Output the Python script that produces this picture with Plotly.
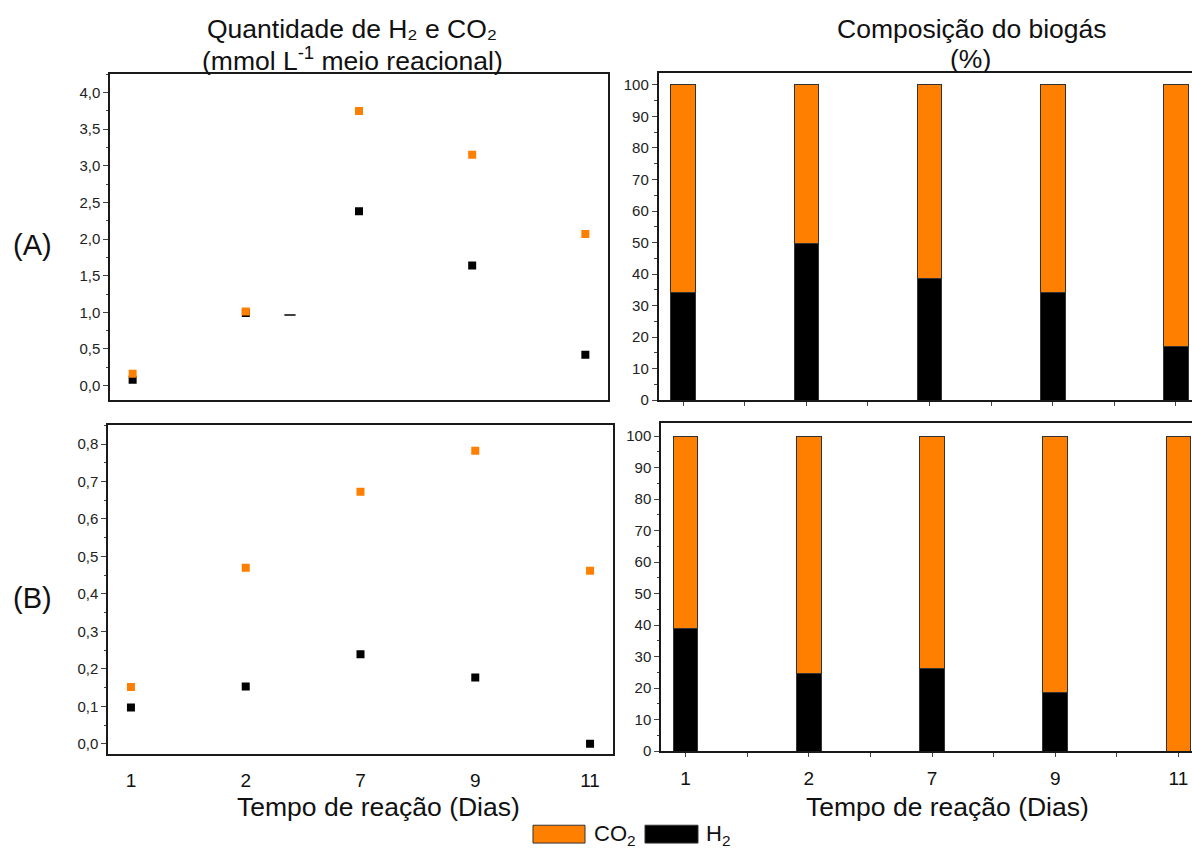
import plotly.graph_objects as go

# ---------------- data ----------------
days = ["1", "2", "7", "9", "11"]
xpos = [0, 1, 2, 3, 4]

# (A) quantity, mmol/L
a_co2 = [0.16, 1.01, 3.75, 3.15, 2.07]
a_h2 = [0.08, 0.99, 2.38, 1.64, 0.42]
a_extra_x = [1.39]
a_extra_y = [0.963]

# (B) quantity, mmol/L
b_co2 = [0.152, 0.47, 0.673, 0.782, 0.462]
b_h2 = [0.097, 0.153, 0.239, 0.177, 0.0]

# biogas composition (%)
a_pct_h2 = [34.1, 49.6, 38.7, 34.1, 17.0]
b_pct_h2 = [39.1, 24.7, 26.3, 18.6, 0.0]
a_pct_co2 = [100 - v for v in a_pct_h2]
b_pct_co2 = [100 - v for v in b_pct_h2]

ORANGE = "#FF8000"
BLACK = "#000000"
FONT = "Liberation Sans, Arial, sans-serif"
W, H = 1192, 858

fig = go.Figure()

def sc(x, y, color, xa, ya):
    fig.add_trace(go.Scatter(x=x, y=y, mode="markers", xaxis=xa, yaxis=ya,
                             marker=dict(symbol="square", size=8, color=color,
                                         line=dict(width=0)),
                             showlegend=False, hoverinfo="skip"))

# (A) scatter
sc(xpos, a_h2, BLACK, "x", "y")
sc(xpos, a_co2, ORANGE, "x", "y")
fig.add_trace(go.Scatter(x=a_extra_x, y=a_extra_y, mode="markers", xaxis="x", yaxis="y",
                         marker=dict(symbol="line-ew", size=8,
                                     line=dict(width=1.5, color=BLACK)),
                         showlegend=False, hoverinfo="skip"))
# (B) scatter
sc(xpos, b_h2, BLACK, "x3", "y3")
sc(xpos, b_co2, ORANGE, "x3", "y3")

def bars(h2, co2, xa, ya):
    fig.add_trace(go.Bar(x=xpos, y=h2, width=0.2, xaxis=xa, yaxis=ya,
                         marker=dict(color=BLACK, line=dict(width=1, color="#333333")),
                         showlegend=False, hoverinfo="skip"))
    fig.add_trace(go.Bar(x=xpos, y=co2, width=0.2, xaxis=xa, yaxis=ya,
                         marker=dict(color=ORANGE, line=dict(width=1, color="#333333")),
                         showlegend=False, hoverinfo="skip"))

bars(a_pct_h2, a_pct_co2, "x2", "y2")
bars(b_pct_h2, b_pct_co2, "x4", "y4")

def px_x(a, b):
    return [a / W, min(b / W, 1.0)]

def px_y(top, bottom):
    return [1 - bottom / H, 1 - top / H]

axline = dict(showline=True, linecolor="#1a1a1a", linewidth=1.5, mirror=True,
              showgrid=False, zeroline=False)
axline_open = dict(showline=True, linecolor="#1a1a1a", linewidth=1.5, mirror=False,
                   showgrid=False, zeroline=False)
tickfont_y = dict(family=FONT, size=15, color="#222222")
tickfont_x = dict(family=FONT, size=19, color="#111111")

fig.update_layout(
    width=W, height=H,
    margin=dict(l=0, r=0, t=0, b=0),
    paper_bgcolor="white", plot_bgcolor="white",
    separators=",.",
    barmode="stack",
    font=dict(family=FONT, color="#111111"),
    xaxis=dict(domain=px_x(110, 608), range=[-0.2, 4.2], anchor="y",
               showticklabels=False, ticks="", **axline),
    yaxis=dict(domain=px_y(75, 404), range=[-0.2, 4.25], anchor="x",
               tickvals=[0, 0.5, 1, 1.5, 2, 2.5, 3, 3.5, 4], tickformat=".1f",
               ticks="outside", ticklen=5, tickwidth=1, tickfont=tickfont_y,
               minor=dict(ticks="outside", ticklen=2.5, dtick=0.25, tick0=0),
               **axline),
    xaxis2=dict(domain=px_x(658.5, 1192), range=[-0.2, 4.13], anchor="y2",
                tickvals=xpos, showticklabels=False, ticks="outside", ticklen=4,
                minor=dict(ticks="outside", ticklen=4, tickvals=[0.5, 1.5, 2.5, 3.5]),
                **axline),
    yaxis2=dict(domain=px_y(73.3, 404), range=[0, 103.9], anchor="x2",
                dtick=10, tick0=0, ticks="outside", ticklen=5, tickfont=tickfont_y,
                minor=dict(ticks="outside", ticklen=2.5, dtick=5),
                **axline_open),
    xaxis3=dict(domain=px_x(108, 613), range=[-0.2, 4.2], anchor="y3",
                tickvals=xpos, ticktext=days, ticks="", tickfont=tickfont_x,
                ticklabelstandoff=9, **axline),
    yaxis3=dict(domain=px_y(429.3, 760.7), range=[-0.026, 0.85], anchor="x3",
                tickvals=[0, 0.1, 0.2, 0.3, 0.4, 0.5, 0.6, 0.7, 0.8], tickformat=".1f",
                ticks="outside", ticklen=5, tickfont=tickfont_y,
                minor=dict(ticks="outside", ticklen=2.5, dtick=0.05, tick0=0),
                **axline),
    xaxis4=dict(domain=px_x(661, 1192), range=[-0.2, 4.11], anchor="y4",
                tickvals=xpos, ticktext=days, ticks="outside", ticklen=4,
                tickfont=tickfont_x, ticklabelstandoff=5,
                minor=dict(ticks="outside", ticklen=4, tickvals=[0.5, 1.5, 2.5, 3.5]),
                **axline),
    yaxis4=dict(domain=px_y(427.3, 758.3), range=[0, 104.1], anchor="x4",
                dtick=10, tick0=0, ticks="outside", ticklen=5, tickfont=tickfont_y,
                minor=dict(ticks="outside", ticklen=2.5, dtick=5),
                **axline_open),
)

def ann(text, x, y, size, xanchor="center"):
    fig.add_annotation(text=text, x=x / W, y=1 - y / H, xref="paper", yref="paper",
                       xanchor=xanchor, yanchor="middle", showarrow=False,
                       font=dict(family=FONT, size=size, color="#111111"))

ann("Quantidade de H₂ e CO₂", 352, 29, 26.5)
ann("(mmol L<sup>-1</sup> meio reacional)", 352, 60, 26.5)
ann("Composição do biogás", 972, 29, 26.5)
ann("(%)", 970, 60, 26.5)
ann("(A)", 32, 247, 29)
ann("(B)", 32, 604, 29)
ann("Tempo de reação (Dias)", 378, 815, 26.5)
ann("Tempo de reação (Dias)", 947, 815, 26.5)

# legend
fig.add_shape(type="rect", xref="paper", yref="paper",
              x0=533 / W, x1=585 / W, y0=1 - 851 / H, y1=1 - 833 / H,
              fillcolor=ORANGE, line=dict(color="#333333", width=1))
fig.add_shape(type="rect", xref="paper", yref="paper",
              x0=645 / W, x1=698 / W, y0=1 - 851 / H, y1=1 - 833 / H,
              fillcolor=BLACK, line=dict(color="#333333", width=1))
ann("CO<sub>2</sub>", 592, 843, 22, xanchor="left")
ann("H<sub>2</sub>", 704, 843, 22, xanchor="left")

fig.write_html("out.html")
